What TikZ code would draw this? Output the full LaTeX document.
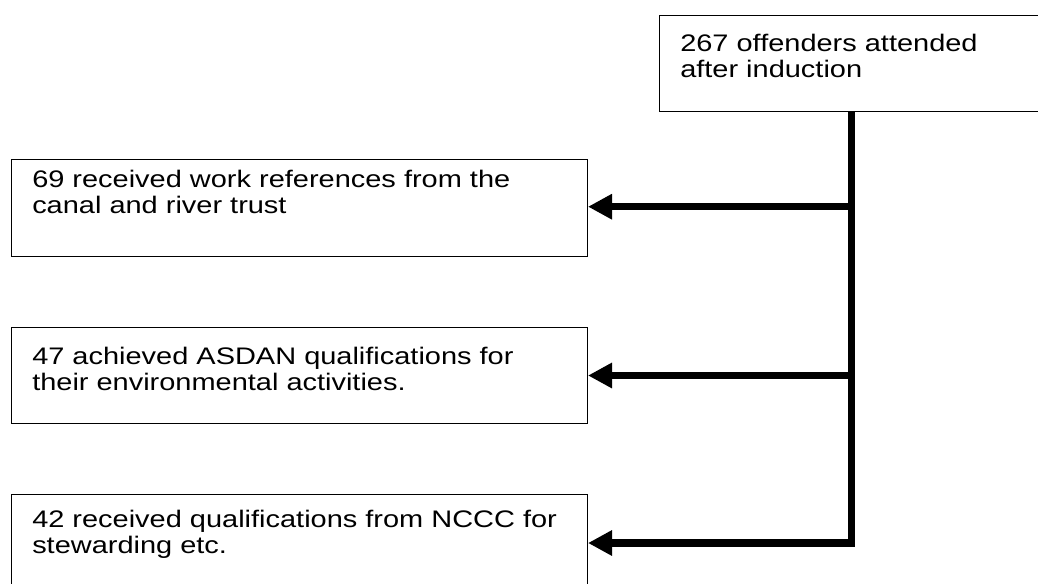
\documentclass[tikz,border=0pt]{standalone}
\usepackage{fontspec}
\setmainfont{Liberation Sans}
\usetikzlibrary{arrows.meta}
\newcommand{\twolines}[2]{\scalebox{1.21}[1]{\vtop{\baselineskip=19.6pt\hbox{#1}\hbox{#2}}}}
\begin{document}
\begin{tikzpicture}[x=0.75pt,y=-0.75pt,
  box/.style={draw=black, line width=0.75pt, fill=white, inner sep=0pt, anchor=north west},
  txt/.style={inner sep=0pt, anchor=base west, font=\fontsize{17.95pt}{19.6pt}\selectfont},
  link/.style={line width=5.6pt, line join=miter, -{Triangle[length=18pt,width=18pt]}}]
\useasboundingbox (0,0) rectangle (1038,583);
\clip (0,0) rectangle (1038,583);
% boxes
\node[box, minimum width=330.75pt, minimum height=71.8pt] (top) at (659,15.3) {};
\node[box, minimum width=432pt, minimum height=72.75pt] (b1) at (11,159) {};
\node[box, minimum width=432pt, minimum height=72pt] (b2) at (11,327) {};
\node[box, minimum width=432pt, minimum height=94.5pt] (b3) at (11,494) {};
% texts
\node[txt] (ttop) at (680,51) {\twolines{267 offenders attended}{after induction}};
\node[txt] (t1) at (32,187) {\twolines{69 received work references from the}{canal and river trust}};
\node[txt] (t2) at (32,364) {\twolines{47 achieved ASDAN qualifications for}{their environmental activities.}};
\node[txt] (t3) at (32,527) {\twolines{42 received qualifications from NCCC for}{stewarding etc.}};
% junctions on the spine
\coordinate (j1) at (851.5,206.7);
\coordinate (j2) at (851.5,375.5);
\coordinate (j3) at (851.5,543);
% connectors
\draw[link] (top.south -| j3) -- (j3) -- (b3.east |- j3);
\draw[link] (j1) -- (b1.east |- j1);
\draw[link] (j2) -- (b2.east |- j2);
\end{tikzpicture}
\end{document}
